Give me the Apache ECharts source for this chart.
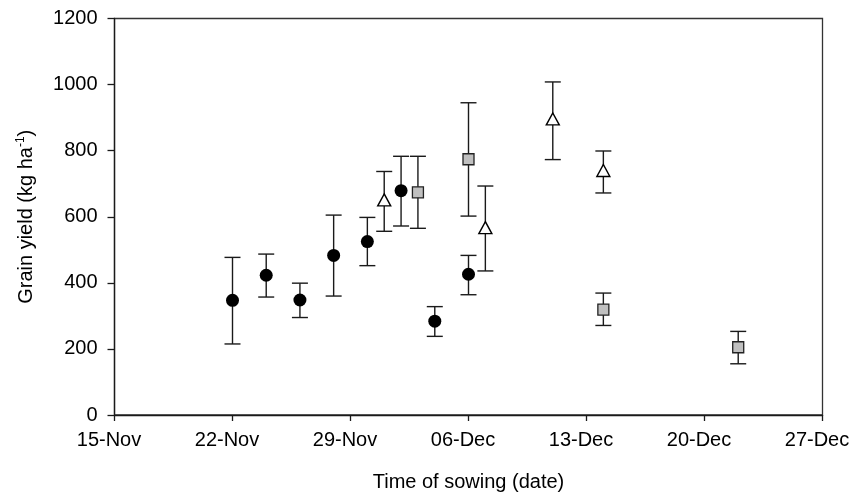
<!DOCTYPE html>
<html>
<head>
<meta charset="utf-8">
<script src="https://cdn.jsdelivr.net/npm/echarts@6/dist/echarts.min.js"></script>
<style>
html,body{margin:0;padding:0;background:#fff;}
#chart{width:854px;height:503px;}
</style>
</head>
<body>
<div id="chart"></div>
<script>
// ---- data ----
var xTickLabels = ['15-Nov', '22-Nov', '29-Nov', '06-Dec', '13-Dec', '20-Dec', '27-Dec'];
var yTickValues = [0, 200, 400, 600, 800, 1000, 1200];

var circleDates = ['22-Nov', '24-Nov', '26-Nov', '28-Nov', '30-Nov', '02-Dec', '04-Dec', '06-Dec'];
var circleMean  = [347, 423, 348, 483, 525, 679, 284, 426];
var circleLow   = [215, 357, 295, 360, 452, 572, 238, 364];
var circleHigh  = [477, 487, 399, 605, 598, 783, 328, 483];

var triangleDates = ['01-Dec', '07-Dec', '11-Dec', '14-Dec'];
var triangleMean  = [651, 567, 896, 740];
var triangleLow   = [556, 436, 773, 672];
var triangleHigh  = [737, 693, 1008, 799];

var squareDates = ['03-Dec', '06-Dec', '14-Dec', '22-Dec'];
var squareMean  = [674, 774, 319, 205];
var squareLow   = [565, 602, 271, 155];
var squareHigh  = [783, 945, 369, 253];

// ---- helpers ----
var monthStart = { 'Nov': 0, 'Dec': 30 };
function dayOffset(s) {            // days after 15-Nov
  var p = s.split('-');
  return monthStart[p[1]] + parseInt(p[0], 10) - 15;
}
function points(dates, mean) {
  return dates.map(function (d, i) { return [dayOffset(d), mean[i]]; });
}
function bars(dates, low, high) {
  return dates.map(function (d, i) { return [dayOffset(d), low[i], high[i]]; });
}

var allBars = bars(circleDates, circleLow, circleHigh)
  .concat(bars(triangleDates, triangleLow, triangleHigh))
  .concat(bars(squareDates, squareLow, squareHigh));

var FONT = 'Liberation Sans, Arial, sans-serif';
var LINE = '#1a1a1a';

var chart = echarts.init(document.getElementById('chart'));
chart.setOption({
  animation: false,
  backgroundColor: '#fff',
  grid: {
    left: 114.5, right: 31.5, top: 18.5, bottom: 88,
    show: true, borderColor: '#333', borderWidth: 1.3, backgroundColor: 'transparent'
  },
  xAxis: {
    type: 'value',
    min: 0, max: 42, interval: 7,
    name: 'Time of sowing (date)',
    nameLocation: 'middle',
    nameGap: 57,
    nameTextStyle: { fontFamily: FONT, fontSize: 20, color: '#000' },
    axisLine: { show: true, onZero: false, lineStyle: { color: LINE, width: 1.3 } },
    axisTick: { show: true, inside: false, length: 6, lineStyle: { color: LINE, width: 1.3 } },
    splitLine: { show: false },
    axisLabel: {
      fontFamily: FONT, fontSize: 20, color: '#000', margin: 15,
      padding: [0, 11, 0, 0],
      showMinLabel: true, showMaxLabel: true,
      formatter: function (v) { return xTickLabels[Math.round(v / 7)]; }
    }
  },
  yAxis: {
    type: 'value',
    min: yTickValues[0], max: yTickValues[yTickValues.length - 1], interval: 200,
    name: 'Grain yield (kg ha{sup|-1})',
    nameLocation: 'middle',
    nameGap: 76,
    nameRotate: 90,
    nameTextStyle: {
      fontFamily: FONT, fontSize: 20, color: '#000',
      rich: { sup: { fontFamily: FONT, fontSize: 12, color: '#000', verticalAlign: 'top', padding: [0, 0, 12, 0] } }
    },
    axisLine: { show: true, onZero: false, lineStyle: { color: LINE, width: 1.3 } },
    axisTick: { show: true, inside: false, length: 7, lineStyle: { color: LINE, width: 1.3 } },
    splitLine: { show: false },
    axisLabel: {
      fontFamily: FONT, fontSize: 20, color: '#000', margin: 17,
      showMinLabel: true, showMaxLabel: true,
      formatter: function (v) { return String(v); }
    }
  },
  series: [
    {
      type: 'custom',
      name: 'error',
      z: 1,
      data: allBars,
      encode: { x: 0, y: [1, 2] },
      renderItem: function (params, api) {
        var x = api.value(0);
        var lo = api.coord([x, api.value(1)]);
        var hi = api.coord([x, api.value(2)]);
        var hw = 8;
        var st = { stroke: LINE, lineWidth: 1.4 };
        return {
          type: 'group',
          children: [
            { type: 'line', shape: { x1: lo[0], y1: lo[1], x2: hi[0], y2: hi[1] }, style: st },
            { type: 'line', shape: { x1: hi[0] - hw, y1: hi[1], x2: hi[0] + hw, y2: hi[1] }, style: st },
            { type: 'line', shape: { x1: lo[0] - hw, y1: lo[1], x2: lo[0] + hw, y2: lo[1] }, style: st }
          ]
        };
      }
    },
    {
      type: 'scatter', name: 'circle', z: 3,
      symbol: 'circle', symbolSize: 13,
      itemStyle: { color: '#000', borderColor: '#000', borderWidth: 0, opacity: 1 },
      data: points(circleDates, circleMean)
    },
    {
      type: 'scatter', name: 'triangle', z: 3,
      symbol: 'triangle', symbolSize: [13, 12],
      itemStyle: { color: '#fff', borderColor: '#000', borderWidth: 1.4, opacity: 1 },
      data: points(triangleDates, triangleMean)
    },
    {
      type: 'scatter', name: 'square', z: 3,
      symbol: 'rect', symbolSize: 11,
      itemStyle: { color: '#c0c0c0', borderColor: '#222', borderWidth: 1.3, opacity: 1 },
      data: points(squareDates, squareMean)
    }
  ]
});
</script>
</body>
</html>
